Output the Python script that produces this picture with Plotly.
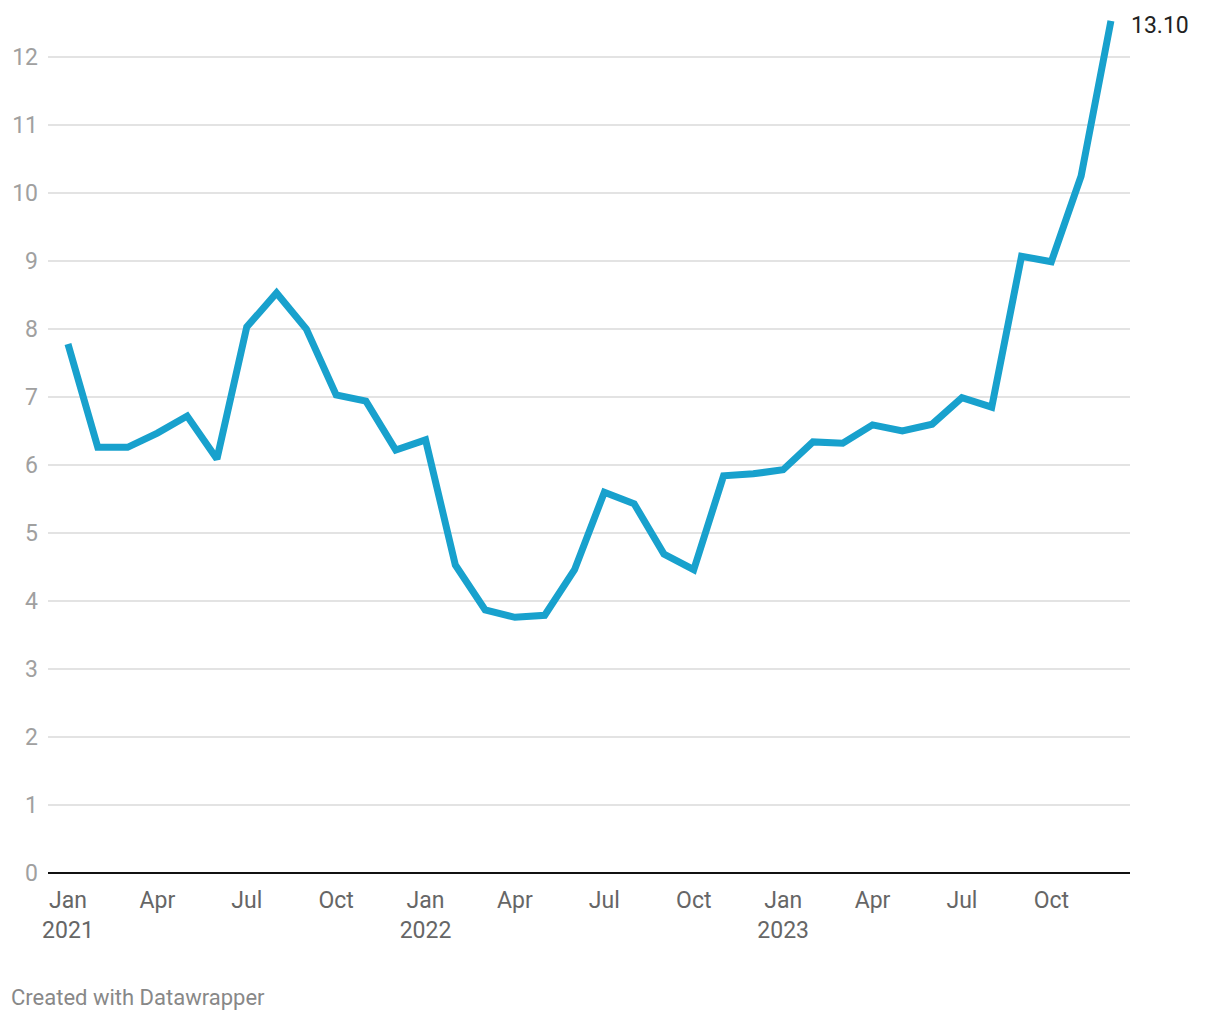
import plotly.graph_objects as go

months = ["Jan 2021","Feb 2021","Mar 2021","Apr 2021","May 2021","Jun 2021","Jul 2021","Aug 2021","Sep 2021","Oct 2021","Nov 2021","Dec 2021",
          "Jan 2022","Feb 2022","Mar 2022","Apr 2022","May 2022","Jun 2022","Jul 2022","Aug 2022","Sep 2022","Oct 2022","Nov 2022","Dec 2022",
          "Jan 2023","Feb 2023","Mar 2023","Apr 2023","May 2023","Jun 2023","Jul 2023","Aug 2023","Sep 2023","Oct 2023","Nov 2023","Dec 2023"]
values = [7.78, 6.26, 6.26, 6.47, 6.72, 6.09, 8.03, 8.53, 8.00, 7.03, 6.94, 6.22,
          6.37, 4.53, 3.87, 3.76, 3.79, 4.46, 5.60, 5.43, 4.69, 4.46, 5.84, 5.87,
          5.93, 6.34, 6.32, 6.59, 6.50, 6.60, 6.99, 6.85, 9.07, 8.99, 10.25, 12.53]
last_label = "13.10"
tick_idx = [0, 3, 6, 9, 12, 15, 18, 21, 24, 27, 30, 33]
tick_text = ["Jan<br>2021", "Apr", "Jul", "Oct", "Jan<br>2022", "Apr", "Jul", "Oct", "Jan<br>2023", "Apr", "Jul", "Oct"]
y_ticks = list(range(0, 13))

x = list(range(len(values)))

W, H = 1220, 1020
ml, mr, mt, mb = 48, 90, 10, 147
pw = W - ml - mr

fig = go.Figure()
fig.add_trace(go.Scatter(
    x=x, y=values, mode="lines",
    line=dict(color="#18a1cd", width=7),
    cliponaxis=False, hoverinfo="skip",
))

fig.add_annotation(x=x[-1], y=values[-1], text=last_label, showarrow=False,
                   xanchor="left", yanchor="middle", xshift=18, yshift=-5,
                   font=dict(family="Roboto", size=23, color="#222222"))

fig.add_annotation(xref="paper", yref="paper", x=(9 - ml) / pw, y=-(997 - (H - mb)) / (H - mt - mb),
                   text="Created with Datawrapper", showarrow=False, xanchor="left", yanchor="middle",
                   font=dict(family="Roboto", size=22, color="#888888"))

fig.update_layout(
    width=W, height=H,
    margin=dict(l=ml, r=mr, t=mt, b=mb),
    paper_bgcolor="white", plot_bgcolor="white",
    showlegend=False,
    font=dict(family="Roboto"),
    xaxis=dict(
        range=[-0.67, 35.64],
        tickmode="array", tickvals=tick_idx, ticktext=tick_text,
        showgrid=False, zeroline=False, showline=False, ticks="",
        tickfont=dict(family="Roboto", size=23, color="#666666"),
        ticklabelstandoff=11,
    ),
    yaxis=dict(
        range=[0, (H - mb - mt) / 68.0],
        tickmode="array", tickvals=y_ticks,
        showgrid=True, gridcolor="#e3e3e3", gridwidth=2,
        zeroline=True, zerolinecolor="#111111", zerolinewidth=2,
        showline=False, ticks="",
        tickfont=dict(family="Roboto", size=23, color="#a0a0a0"),
        ticklabelstandoff=9,
    ),
)

fig.write_html("out.html")
